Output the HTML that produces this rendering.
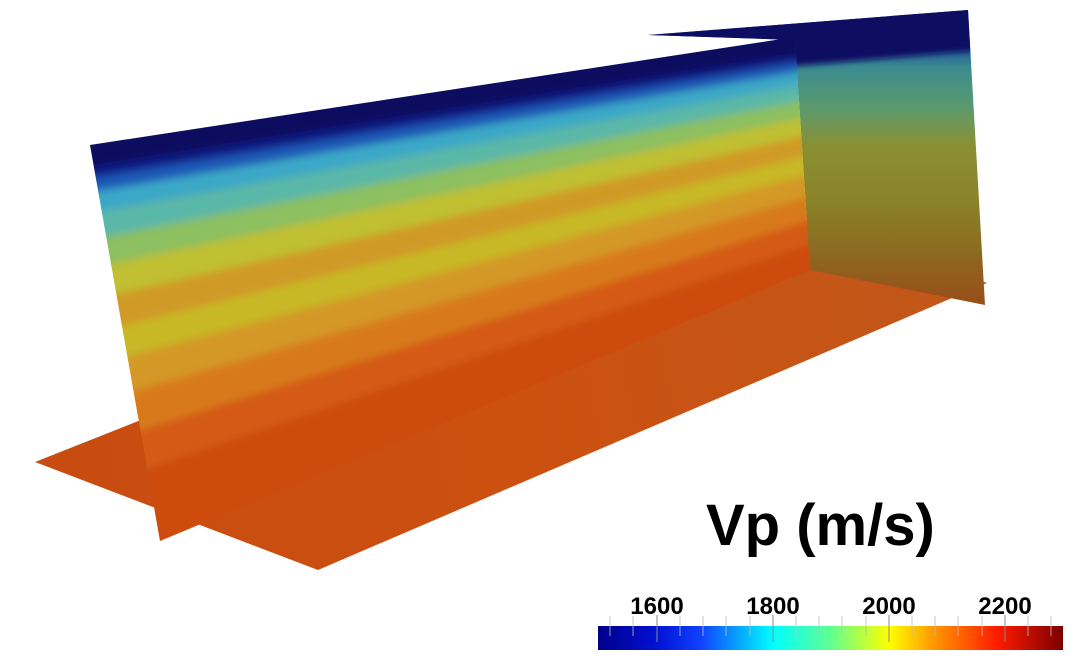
<!DOCTYPE html>
<html><head><meta charset="utf-8"><style>
html,body{margin:0;padding:0;background:#fff;}
svg{display:block}
</style></head><body>
<svg width="1080" height="669" viewBox="0 0 1080 669" xmlns="http://www.w3.org/2000/svg">
<defs>
<filter id="bl" x="-5%" y="-5%" width="110%" height="110%"><feGaussianBlur stdDeviation="4"/></filter>
<filter id="bl2"><feGaussianBlur stdDeviation="3"/></filter>
<clipPath id="mainClip"><polygon points="90,145 795,37 810,270 160,541"/></clipPath>
<clipPath id="rClip"><polygon points="648,35 968,10 985,305 810,270 795,40"/></clipPath>
<linearGradient id="rg" gradientUnits="userSpaceOnUse" x1="0" y1="40" x2="0" y2="305">
<stop offset="0" stop-color="#1a3a9a"/><stop offset="0.1" stop-color="#3a8a90"/>
<stop offset="0.25" stop-color="#5a9a70"/><stop offset="0.4" stop-color="#8a9032"/>
<stop offset="0.6" stop-color="#8a8428"/><stop offset="0.8" stop-color="#8c6a20"/>
<stop offset="1" stop-color="#9a4c18"/>
</linearGradient>
<linearGradient id="pg" gradientUnits="userSpaceOnUse" x1="35" y1="462" x2="987" y2="283">
<stop offset="0" stop-color="#c84c10"/><stop offset="0.5" stop-color="#cc5010"/><stop offset="1" stop-color="#c0581a"/>
</linearGradient>
<linearGradient id="cb" x1="0" y1="0" x2="1" y2="0">
<stop offset="0" stop-color="#00008a"/><stop offset="0.12" stop-color="#0010d0"/>
<stop offset="0.22" stop-color="#1040ff"/><stop offset="0.376" stop-color="#00ffff"/>
<stop offset="0.5" stop-color="#60ff90"/><stop offset="0.626" stop-color="#ffff00"/>
<stop offset="0.72" stop-color="#ff9a00"/><stop offset="0.86" stop-color="#ff1a00"/>
<stop offset="1" stop-color="#7a0000"/>
</linearGradient>
</defs>

<!-- horizontal plane -->
<polygon points="35,462 318,570 987,283 720,190" fill="url(#pg)"/>

<!-- right slice -->
<g clip-path="url(#rClip)">
<rect x="640" y="0" width="360" height="320" fill="url(#rg)"/>
<g filter="url(#bl2)">
<polygon points="640,20 980,-5 980,50 795,66 640,50" fill="#0a0e62"/>
</g>
</g>

<!-- main slice -->
<g clip-path="url(#mainClip)">
<g filter="url(#bl)">
<rect x="30" y="0" width="850" height="620" fill="#cc4c10"/>
<polygon points="40,100 850,0 826,51 53,174" fill="#0a0a60"/>
<polygon points="53,174 826,51 826,58 56,184" fill="#0c1a88"/>
<polygon points="56,184 826,58 827,67 58,198" fill="#1e5ab8"/>
<polygon points="58,198 827,67 828,80 63,218" fill="#3aa8c8"/>
<polygon points="63,218 828,80 829,95 68,244" fill="#5ab8a8"/>
<polygon points="68,244 829,95 830,112 72,272" fill="#8cc060"/>
<polygon points="72,272 830,112 831,130 78,303" fill="#c0c030"/>
<polygon points="78,303 831,130 832,149 84,335" fill="#d09a25"/>
<polygon points="84,335 832,149 833,168 89,367" fill="#c8b828"/>
<polygon points="89,367 833,168 835,189 96,402" fill="#d49828"/>
<polygon points="96,402 835,189 836,212 103,442" fill="#d87a1c"/>
<polygon points="103,442 836,212 838,235 110,482" fill="#d45a12"/>
</g>
</g>

<!-- title -->
<text x="706" y="545" font-family="Liberation Sans, sans-serif" font-weight="bold" font-size="58" fill="#000">Vp (m/s)</text>

<!-- colorbar -->
<rect x="598" y="626" width="465" height="24" fill="url(#cb)"/>
<g stroke="#bbb" stroke-width="1" opacity="0.8">
<line x1="610" y1="616" x2="610" y2="636"/><line x1="633" y1="616" x2="633" y2="636"/>
<line x1="680" y1="616" x2="680" y2="636"/><line x1="703" y1="616" x2="703" y2="636"/>
<line x1="726" y1="616" x2="726" y2="636"/><line x1="750" y1="616" x2="750" y2="636"/>
<line x1="796" y1="616" x2="796" y2="636"/><line x1="819" y1="616" x2="819" y2="636"/>
<line x1="842" y1="616" x2="842" y2="636"/><line x1="866" y1="616" x2="866" y2="636"/>
<line x1="912" y1="616" x2="912" y2="636"/><line x1="935" y1="616" x2="935" y2="636"/>
<line x1="958" y1="616" x2="958" y2="636"/><line x1="982" y1="616" x2="982" y2="636"/>
<line x1="1028" y1="616" x2="1028" y2="636"/><line x1="1051" y1="616" x2="1051" y2="636"/>
</g>
<g stroke="#888" stroke-width="1">
<line x1="657" y1="615" x2="657" y2="642"/><line x1="773" y1="615" x2="773" y2="642"/>
<line x1="889" y1="615" x2="889" y2="642"/><line x1="1005" y1="615" x2="1005" y2="642"/>
</g>
<g font-family="Liberation Sans, sans-serif" font-weight="bold" font-size="24" fill="#000" text-anchor="middle">
<text x="657" y="614">1600</text><text x="773" y="614">1800</text>
<text x="889" y="614">2000</text><text x="1005" y="614">2200</text>
</g>
</svg>
</body></html>
